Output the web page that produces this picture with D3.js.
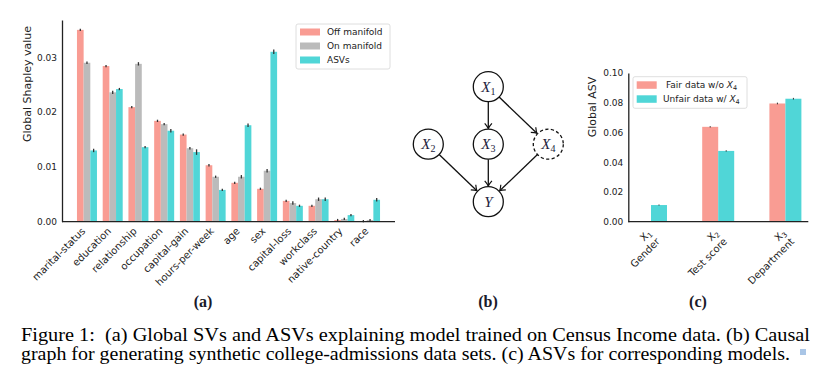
<!DOCTYPE html>
<html>
<head>
<meta charset="utf-8">
<script src="https://cdn.jsdelivr.net/npm/d3@7"></script>
<style>
body { margin: 0; background: #fff; }
svg { display: block; }
</style>
</head>
<body>
<script>
// panel (a) data
var features = ["marital-status", "education", "relationship", "occupation", "capital-gain",
    "hours-per-week", "age", "sex", "capital-loss", "workclass", "native-country", "race"];
var offManifold = [0.0350, 0.0284, 0.0209, 0.0184, 0.0159, 0.0103, 0.0071, 0.0060, 0.0038, 0.0029, 0.0003, 0.0001];
var onManifold  = [0.0290, 0.0236, 0.0288, 0.0178, 0.0134, 0.0082, 0.0082, 0.0093, 0.0034, 0.0041, 0.0005, 0.0003];
var asvValues   = [0.0130, 0.0242, 0.0136, 0.0166, 0.0127, 0.0058, 0.0176, 0.0310, 0.0029, 0.0041, 0.0012, 0.0040];
var offErr = [0.0001, 0.0001, 0.0001, 0.0001, 0.0001, 0.0001, 0.0001, 0.0001, 0.0001, 0.0001, 0.0001, 0.0001];
var onErr  = [0.0001, 0.0002, 0.0002, 0.0001, 0.0001, 0.0001, 0.0002, 0.0002, 0.0002, 0.0002, 0.0001, 0.0001];
var asvErr = [0.0002, 0.0001, 0.0001, 0.0002, 0.0004, 0.0001, 0.0002, 0.0003, 0.0001, 0.0002, 0.0001, 0.0002];
var seriesA = ["Off manifold", "On manifold", "ASVs"];
var yTicksA = [0, 0.01, 0.02, 0.03];

// panel (c) data
var causeSub = ["1", "2", "3"];
var causeNames = ["Gender", "Test score", "Department"];
var fairData   = [0.0000, 0.0638, 0.0795];
var unfairData = [0.0112, 0.0476, 0.0827];
var fairErr    = [0.0000, 0.0002, 0.0003];
var unfairErr  = [0.0001, 0.0002, 0.0003];
var yTicksC = [0, 0.02, 0.04, 0.06, 0.08, 0.10];

// panel (b) graph
var nodes = [
    {id: "X1", sym: "X", sub: "1", col: 1, row: 0},
    {id: "X2", sym: "X", sub: "2", col: 0, row: 1},
    {id: "X3", sym: "X", sub: "3", col: 1, row: 1},
    {id: "X4", sym: "X", sub: "4", col: 2, row: 1, dashed: true},
    {id: "Y",  sym: "Y", sub: "",  col: 1, row: 2}
];
var links = [["X1", "X3"], ["X1", "X4"], ["X2", "Y"], ["X3", "Y"], ["X4", "Y"]];

var caption = [
    "Figure 1:  (a) Global SVs and ASVs explaining model trained on Census Income data. (b) Causal",
    "graph for generating synthetic college-admissions data sets. (c) ASVs for corresponding models."
];

var pink = "#f99c93", grey = "#bbbbbb", teal = "#50d6d7";
var colorsA = [pink, grey, teal];
var sans = "DejaVu Sans";
var serif = "'Liberation Serif', 'Times New Roman', Times, serif";

var svg = d3.select("body").append("svg")
    .attr("width", 826)
    .attr("height", 381);

// ---------- (a) ----------
var yA = d3.scaleLinear().domain([0, 0.0368]).range([221.7, 20]);
var xA = d3.scaleBand().domain(features).range([74.1, 382.9]);
var xAInner = d3.scaleBand().domain(seriesA).range([0, xA.bandwidth()]).paddingInner(0).paddingOuter(0.43);

var tableA = [offManifold, onManifold, asvValues];
var errA = [offErr, onErr, asvErr];
var gA = svg.append("g");
seriesA.forEach(function(s, i) {
    var rows = features.map(function(f, j) { return {f: f, v: tableA[i][j], e: errA[i][j]}; });
    gA.selectAll(".bar" + i).data(rows).join("rect")
        .attr("x", function(d) { return xA(d.f) + xAInner(s); })
        .attr("width", xAInner.bandwidth())
        .attr("y", function(d) { return yA(d.v); })
        .attr("height", function(d) { return yA(0) - yA(d.v); })
        .attr("fill", colorsA[i]);
    gA.selectAll(".err" + i).data(rows).join("line")
        .attr("x1", function(d) { return xA(d.f) + xAInner(s) + xAInner.bandwidth() / 2; })
        .attr("x2", function(d) { return xA(d.f) + xAInner(s) + xAInner.bandwidth() / 2; })
        .attr("y1", function(d) { return yA(d.v + d.e) - 0.6; })
        .attr("y2", function(d) { return yA(Math.max(0, d.v - d.e)) + 0.6; })
        .attr("stroke", "#333")
        .attr("stroke-width", 1.3);
});

var axA = svg.append("g")
    .attr("transform", "translate(62,0)")
    .call(d3.axisLeft(yA).tickValues(yTicksA).tickFormat(d3.format(".2f")).tickSize(0).tickSizeOuter(0).tickPadding(5));
axA.select(".domain").attr("stroke", "#222").attr("stroke-width", 1.3);
axA.selectAll("text").attr("font-family", sans).attr("font-size", 9).attr("fill", "#222");

var axAx = svg.append("g")
    .attr("transform", "translate(0,221.7)")
    .call(d3.axisBottom(xA).tickSize(0));
axAx.select(".domain").remove();
axAx.selectAll("text")
    .attr("y", 0).attr("dy", 0)
    .attr("text-anchor", "end")
    .attr("transform", "translate(-1,10) rotate(-45)")
    .attr("font-family", sans).attr("font-size", 10).attr("fill", "#222");
svg.append("line")
    .attr("x1", 62).attr("x2", 395).attr("y1", 221.7).attr("y2", 221.7)
    .attr("stroke", "#222").attr("stroke-width", 1.3);

svg.append("text")
    .attr("transform", "translate(31,84) rotate(-90)")
    .attr("text-anchor", "middle")
    .attr("font-family", sans).attr("font-size", 11).attr("fill", "#222")
    .text("Global Shapley value");

// legend (a)
svg.append("rect")
    .attr("x", 296).attr("y", 24).attr("width", 94).attr("height", 45).attr("rx", 2)
    .attr("fill", "#fff").attr("stroke", "#d6d6d6").attr("stroke-width", 0.8);
seriesA.forEach(function(s, i) {
    svg.append("rect")
        .attr("x", 300).attr("y", 28.5 + i * 14).attr("width", 20).attr("height", 7)
        .attr("fill", colorsA[i]);
    svg.append("text")
        .attr("x", 327).attr("y", 35.3 + i * 14)
        .attr("font-family", sans).attr("font-size", 9).attr("fill", "#222")
        .text(s);
});

// ---------- (b) ----------
var colScale = d3.scaleLinear().domain([0, 2]).range([428.3, 548.3]);
var rowScale = d3.scaleLinear().domain([0, 2]).range([86.7, 201.7]);
var r = 15;
var byId = {};
nodes.forEach(function(n) { byId[n.id] = n; });

svg.append("defs").append("marker")
    .attr("id", "arrow")
    .attr("viewBox", "-7 -5 8 10")
    .attr("refX", 0).attr("refY", 0)
    .attr("markerWidth", 8).attr("markerHeight", 10)
    .attr("markerUnits", "userSpaceOnUse")
    .attr("orient", "auto")
    .append("path")
    .attr("d", "M-5,-3.6 Q-2,-1 0,0 Q-2,1 -5,3.6")
    .attr("fill", "none").attr("stroke", "#111").attr("stroke-width", 1.2);

svg.selectAll(".edge").data(links).join("line")
    .each(function(l) {
        var a = byId[l[0]], b = byId[l[1]];
        var x1 = colScale(a.col), y1 = rowScale(a.row), x2 = colScale(b.col), y2 = rowScale(b.row);
        var len = Math.hypot(x2 - x1, y2 - y1), ux = (x2 - x1) / len, uy = (y2 - y1) / len;
        d3.select(this)
            .attr("x1", x1 + ux * r).attr("y1", y1 + uy * r)
            .attr("x2", x2 - ux * (r + 0.8)).attr("y2", y2 - uy * (r + 0.8));
    })
    .attr("stroke", "#111").attr("stroke-width", 1.3)
    .attr("marker-end", "url(#arrow)");

svg.selectAll(".node").data(nodes).join("circle")
    .attr("cx", function(d) { return colScale(d.col); })
    .attr("cy", function(d) { return rowScale(d.row); })
    .attr("r", r)
    .attr("fill", "#fff").attr("stroke", "#111").attr("stroke-width", 1.3)
    .attr("stroke-dasharray", function(d) { return d.dashed ? "3.2,2.4" : null; });

var lbl = svg.selectAll(".nlabel").data(nodes).join("text")
    .attr("x", function(d) { return colScale(d.col); })
    .attr("y", function(d) { return rowScale(d.row) + 5; })
    .attr("text-anchor", "middle")
    .attr("font-family", serif).attr("font-size", 15).attr("fill", "#1c1c3c");
lbl.append("tspan").attr("font-style", "italic").text(function(d) { return d.sym; });
lbl.append("tspan").attr("font-size", 10).attr("dy", 3).text(function(d) { return d.sub; });

// ---------- (c) ----------
var yC = d3.scaleLinear().domain([0, 0.1]).range([221.7, 73]);
var xC = d3.scaleBand().domain(causeNames).range([617.4, 819]);
var xCInner = d3.scaleBand().domain(["fair", "unfair"]).range([0, xC.bandwidth()]).paddingInner(0).paddingOuter(1.1);
var rowsC = causeNames.map(function(c, j) {
    return [{c: c, k: "fair", v: fairData[j], e: fairErr[j], col: pink},
            {c: c, k: "unfair", v: unfairData[j], e: unfairErr[j], col: teal}];
}).flat();
svg.selectAll(".barC").data(rowsC).join("rect")
    .attr("x", function(d) { return xC(d.c) + xCInner(d.k); })
    .attr("width", xCInner.bandwidth())
    .attr("y", function(d) { return yC(d.v); })
    .attr("height", function(d) { return yC(0) - yC(d.v); })
    .attr("fill", function(d) { return d.col; });
svg.selectAll(".errC").data(rowsC.filter(function(d) { return d.v > 0; })).join("line")
    .attr("x1", function(d) { return xC(d.c) + xCInner(d.k) + xCInner.bandwidth() / 2; })
    .attr("x2", function(d) { return xC(d.c) + xCInner(d.k) + xCInner.bandwidth() / 2; })
    .attr("y1", function(d) { return yC(d.v + d.e) - 0.4; })
    .attr("y2", function(d) { return yC(d.v - d.e) + 0.4; })
    .attr("stroke", "#333").attr("stroke-width", 1);

var axC = svg.append("g")
    .attr("transform", "translate(628.3,0)")
    .call(d3.axisLeft(yC).tickValues(yTicksC).tickFormat(d3.format(".2f")).tickSize(0).tickSizeOuter(0).tickPadding(5));
axC.select(".domain").attr("stroke", "#222").attr("stroke-width", 1.3);
axC.selectAll("text").attr("font-family", sans).attr("font-size", 9).attr("fill", "#222");

var axCx = svg.append("g")
    .attr("transform", "translate(0,221.7)")
    .call(d3.axisBottom(xC).tickSize(0));
axCx.select(".domain").remove();
axCx.selectAll("text")
    .attr("y", 0).attr("dy", 0)
    .attr("text-anchor", "end")
    .attr("transform", "translate(1,12) rotate(-45)")
    .attr("font-family", sans).attr("font-size", 10).attr("fill", "#222")
    .each(function(d, i) {
        var t = d3.select(this).text(null);
        t.append("tspan").text("X");
        t.append("tspan").attr("font-size", 7).attr("dy", 2).text(causeSub[i]);
        t.append("tspan").attr("x", 0).attr("dy", 10).text(d);
    });
svg.append("line")
    .attr("x1", 628.3).attr("x2", 808.3).attr("y1", 221.7).attr("y2", 221.7)
    .attr("stroke", "#222").attr("stroke-width", 1.3);

svg.append("text")
    .attr("transform", "translate(596,107) rotate(-90)")
    .attr("text-anchor", "middle")
    .attr("font-family", sans).attr("font-size", 11).attr("fill", "#222")
    .text("Global ASV");

// legend (c)
svg.append("rect")
    .attr("x", 633).attr("y", 76.7).attr("width", 114).attr("height", 31.6).attr("rx", 2)
    .attr("fill", "#fff").attr("stroke", "#d6d6d6").attr("stroke-width", 0.8);
var legC = [{t: "Fair data w/o ", col: pink, dx: 3}, {t: "Unfair data w/ ", col: teal, dx: 0}];
legC.forEach(function(l, i) {
    svg.append("rect")
        .attr("x", 636.7).attr("y", 81.3 + i * 14).attr("width", 20).attr("height", 7.5)
        .attr("fill", l.col);
    var t = svg.append("text")
        .attr("x", 663 + l.dx).attr("y", 88.3 + i * 14)
        .attr("font-family", sans).attr("font-size", 9).attr("fill", "#222")
        .style("white-space", "pre");
    t.append("tspan").text(l.t);
    t.append("tspan").attr("font-style", "italic").text("X");
    t.append("tspan").attr("font-size", 6.5).attr("dy", 2).text("4");
});

// ---------- panel tags and caption ----------
var tags = [["(a)", 203], ["(b)", 488], ["(c)", 698]];
svg.selectAll(".tag").data(tags).join("text")
    .attr("x", function(d) { return d[1]; })
    .attr("y", 307)
    .attr("text-anchor", "middle")
    .attr("font-family", serif).attr("font-weight", "bold").attr("font-size", 16)
    .attr("fill", "#1a1a2a")
    .text(function(d) { return d[0]; });

svg.selectAll(".cap").data(caption).join("text")
    .attr("x", 21)
    .attr("y", function(d, i) { return 341 + i * 18.6; })
    .attr("textLength", function(d, i) { return i === 0 ? 789 : 769; })
    .attr("lengthAdjust", "spacingAndGlyphs")
    .attr("font-family", serif).attr("font-size", 18.5).attr("fill", "#000")
    .style("white-space", "pre")
    .text(function(d) { return d; });

svg.append("rect")
    .attr("x", 800).attr("y", 349).attr("width", 6).attr("height", 6)
    .attr("fill", "#a9c5e6");
</script>
</body>
</html>
